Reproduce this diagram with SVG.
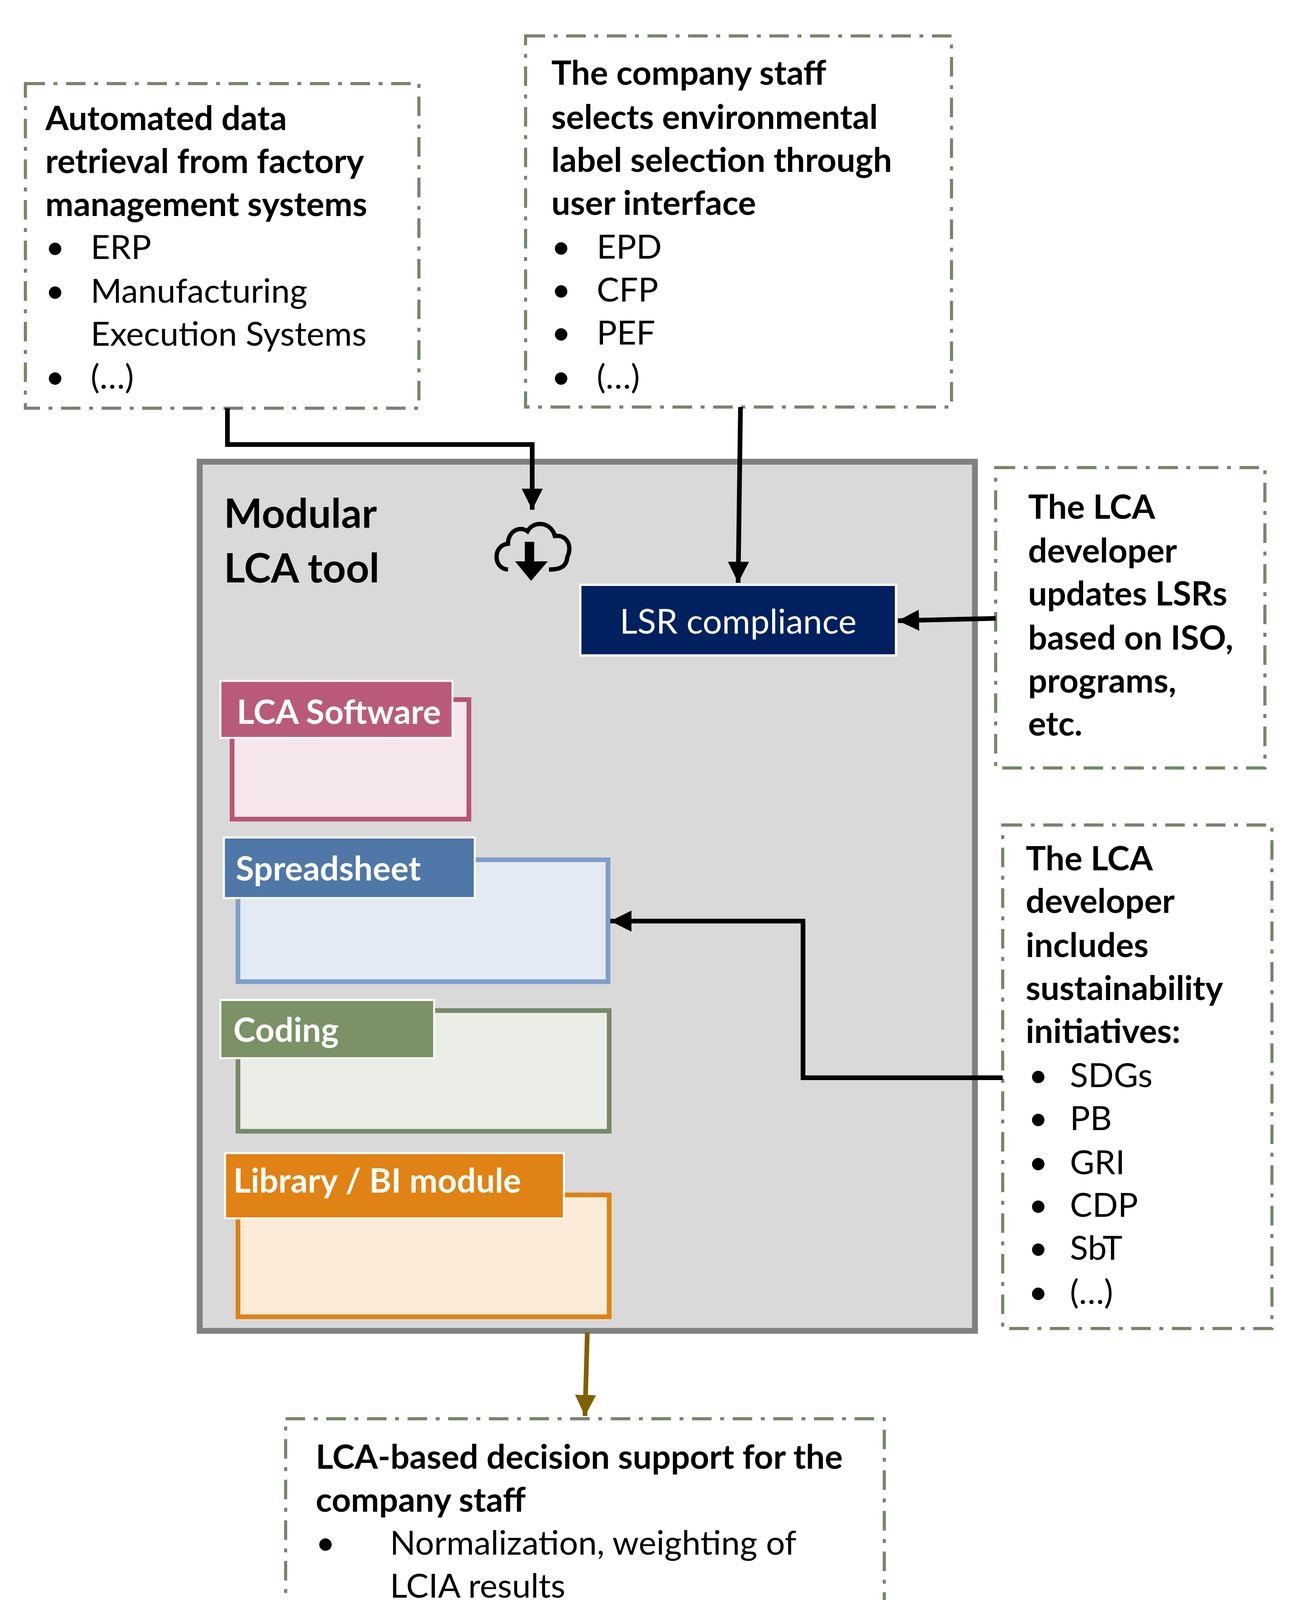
<svg xmlns="http://www.w3.org/2000/svg" width="3355" height="4686" viewBox="0 0 3355 4686">
<defs>
<style>
text{font-family:Lato,"Open Sans","Liberation Sans",sans-serif;font-size:86px;fill:#000}
.b{font-weight:bold}
.dash{fill:#fff;stroke:#76866a;stroke-width:8;stroke-dasharray:50 22 10 22}
.w{fill:#fff;font-weight:bold}
.con{fill:none;stroke:#000;stroke-width:12}
</style>
<marker id="ah" viewBox="0 0 10 10" refX="10" refY="5" markerWidth="4.5" markerHeight="4.5" markerUnits="strokeWidth" orient="auto"><path d="M0,0L10,5L0,10z" fill="#000"/></marker>
<marker id="ah2" viewBox="0 0 10 10" refX="10" refY="5" markerWidth="4.5" markerHeight="4.5" markerUnits="strokeWidth" orient="auto"><path d="M0,0L10,5L0,10z" fill="#7f6000"/></marker>
</defs>
<rect width="3355" height="4686" fill="#fff"/>

<g id="box1">
<rect class="dash" x="65" y="214" width="1007" height="831"/>
<text class="b" x="116" y="333">Automated data</text>
<text class="b" x="116" y="443">retrieval from factory</text>
<text class="b" x="116" y="553">management systems</text>
<text x="116" y="663">•</text><text x="232" y="663">ERP</text>
<text x="116" y="775">•</text><text x="232" y="775">Manufacturing</text>
<text x="232" y="885">Execution Systems</text>
<text x="116" y="995">•</text><text x="232" y="995">(…)</text>
</g>

<g id="box2">
<rect class="dash" x="1345" y="92" width="1090" height="950"/>
<text class="b" x="1411" y="217">The company staff</text>
<text class="b" x="1411" y="330">selects environmental</text>
<text class="b" x="1411" y="440">label selection through</text>
<text class="b" x="1411" y="550">user interface</text>
<text x="1411" y="662">•</text><text x="1527" y="662">EPD</text>
<text x="1411" y="772">•</text><text x="1527" y="772">CFP</text>
<text x="1411" y="882">•</text><text x="1527" y="882">PEF</text>
<text x="1411" y="995">•</text><text x="1527" y="995">(…)</text>
</g>

<g id="main">
<rect x="511" y="1182" width="1984" height="2225" fill="#d9d9d9" stroke="#808080" stroke-width="15"/>
<text class="b" x="573" y="1351" style="font-size:104px">Modular</text>
<text class="b" x="573" y="1491" style="font-size:104px">LCA tool</text>
</g>

<g id="cloud">
<path d="M1300,1458 C1260,1455 1262,1395 1300,1392 C1300,1360 1330,1345 1350,1360 C1365,1332 1410,1335 1420,1372 C1452,1368 1465,1400 1452,1425 C1450,1450 1435,1458 1405,1458" fill="none" stroke="#000" stroke-width="11"/>
<rect x="1343" y="1387" width="24" height="52" fill="#000"/>
<path d="M1318,1437 L1402,1437 L1359,1487 Z" fill="#000"/>
</g>

<g id="lsr">
<rect x="1485" y="1497" width="808" height="181" fill="#002060" stroke="#fff" stroke-width="6"/>
<text x="1889" y="1622" text-anchor="middle" style="fill:#fff;font-size:88px">LSR compliance</text>
</g>

<g id="box3">
<rect class="dash" x="2548" y="1197" width="689" height="769"/>
<text class="b" x="2631" y="1328">The LCA</text>
<text class="b" x="2631" y="1440">developer</text>
<text class="b" x="2631" y="1550">updates LSRs</text>
<text class="b" x="2631" y="1663">based on ISO,</text>
<text class="b" x="2631" y="1773">programs,</text>
<text class="b" x="2631" y="1883">etc.</text>
</g>

<g id="box4">
<rect class="dash" x="2566" y="2112" width="689" height="1289"/>
<text class="b" x="2625" y="2228">The LCA</text>
<text class="b" x="2625" y="2337">developer</text>
<text class="b" x="2625" y="2450">includes</text>
<text class="b" x="2625" y="2560">sustainability</text>
<text class="b" x="2625" y="2670">initiatives:</text>
<text x="2632" y="2783">•</text><text x="2738" y="2783">SDGs</text>
<text x="2632" y="2893">•</text><text x="2738" y="2893">PB</text>
<text x="2632" y="3006">•</text><text x="2738" y="3006">GRI</text>
<text x="2632" y="3115">•</text><text x="2738" y="3115">CDP</text>
<text x="2632" y="3225">•</text><text x="2738" y="3225">SbT</text>
<text x="2632" y="3338">•</text><text x="2738" y="3338">(…)</text>
</g>

<g id="lca-software">
<rect x="594" y="1791" width="606" height="306" fill="#f5e6ec" stroke="#b85471" stroke-width="12"/>
<rect x="564" y="1743" width="594" height="146" fill="#b95b78" stroke="#fff" stroke-width="5"/>
<text class="w" x="606" y="1853">LCA Software</text>
</g>

<g id="spreadsheet">
<rect x="609" y="2201" width="947" height="312" fill="#e3eaf3" stroke="#7f9fcb" stroke-width="12"/>
<rect x="573" y="2144" width="642" height="155" fill="#4f77a8" stroke="#fff" stroke-width="5"/>
<text class="w" x="603" y="2254">Spreadsheet</text>
</g>

<g id="coding">
<rect x="609" y="2587" width="950" height="309" fill="#ebeee7" stroke="#77896a" stroke-width="12"/>
<rect x="564" y="2560" width="547" height="149" fill="#7a9265" stroke="#fff" stroke-width="5"/>
<text class="w" x="597" y="2667">Coding</text>
</g>

<g id="library">
<rect x="609" y="3059" width="950" height="312" fill="#fdebd9" stroke="#e08214" stroke-width="12"/>
<rect x="576" y="2952" width="867" height="167" fill="#e08214" stroke="#fff" stroke-width="5"/>
<text class="w" x="597" y="3053">Library / BI module</text>
</g>

<g id="box5">
<rect class="dash" x="731" y="3632" width="1532" height="963"/>
<text class="b" x="808" y="3760">LCA-based decision support for the</text>
<text class="b" x="808" y="3870">company staff</text>
<text x="808" y="3980">•</text><text x="998" y="3980">Normalization, weighting of</text>
<text x="998" y="4090">LCIA results</text>
<text x="808" y="4203">•</text><text x="998" y="4203">LCI consumption simulation</text>
<text x="808" y="4312">•</text><text x="998" y="4312">Analysis of sustainability targets</text>
<text x="808" y="4425">•</text><text x="998" y="4425">Optimization</text>
<text x="808" y="4535">•</text><text x="998" y="4535">Reporting</text>
</g>

<g id="connectors">
<path class="con" d="M582,1045 V1138 H1362 V1305" marker-end="url(#ah)"/>
<path class="con" d="M1895,1042 L1889,1492" marker-end="url(#ah)"/>
<path class="con" d="M2548,1583 L2298,1589" marker-end="url(#ah)"/>
<path class="con" d="M2566,2759 H2055 V2358 H1562" marker-end="url(#ah)"/>
<path class="con" d="M1503,3411 L1497,3625" style="stroke:#7f6000" marker-end="url(#ah2)"/>
</g>
</svg>
